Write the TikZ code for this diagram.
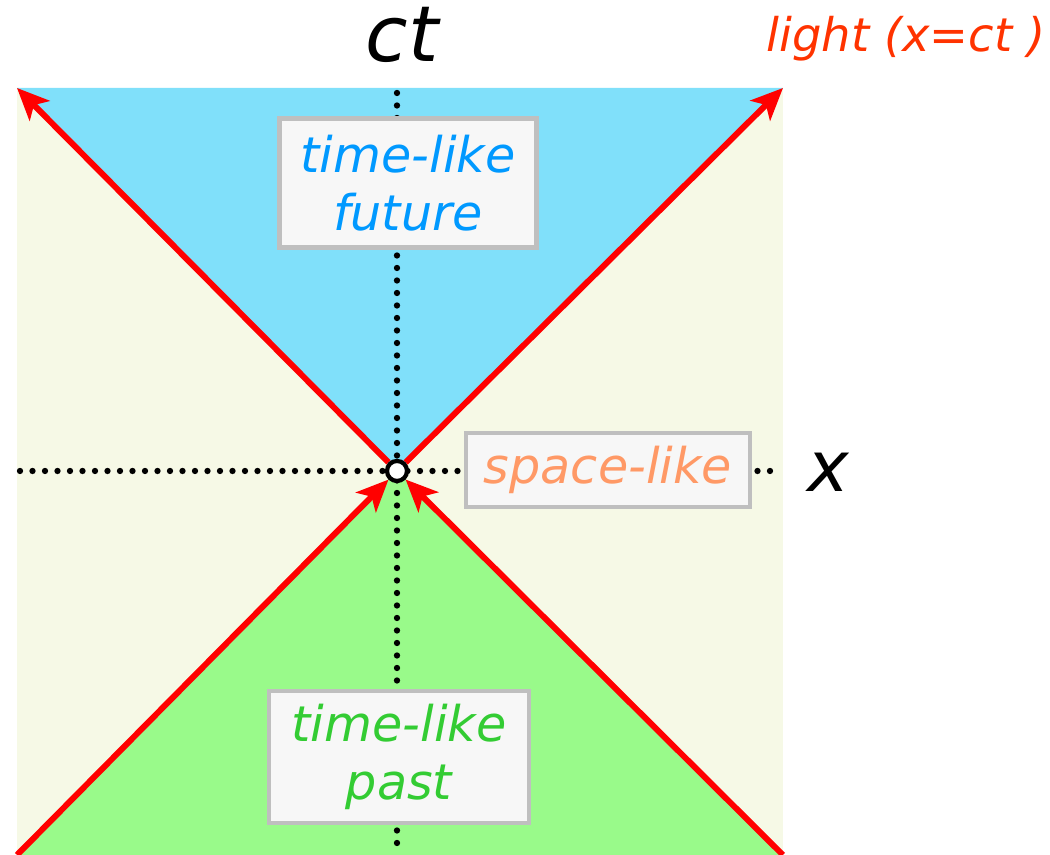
\documentclass[tikz,border=0pt]{standalone}
\usepackage{fontspec}
\setmainfont{DejaVu Sans}
\usetikzlibrary{arrows.meta, positioning}
\definecolor{spacefill}{RGB}{246,249,230}
\definecolor{futurefill}{RGB}{128,224,250}
\definecolor{pastfill}{RGB}{153,250,138}
\definecolor{boxfill}{RGB}{247,247,247}
\definecolor{futuretext}{RGB}{0,153,255}
\definecolor{pasttext}{RGB}{51,204,51}
\definecolor{spacetext}{RGB}{255,153,102}
\definecolor{lighttext}{RGB}{255,51,0}
\begin{document}
\begin{tikzpicture}[
        labelbox/.style={rectangle, draw=black!25, line width=1.4pt, fill=boxfill, align=center, inner sep=0pt, font=\fontsize{14}{16.5}\selectfont\itshape},
        ray/.style={draw=red, line width=1.7pt, -{Stealth[length=0.32cm, width=0.28cm, inset=0.08cm]}},
        axis/.style={line width=1.8pt, dash pattern=on 0pt off 0.125cm, line cap=round},
        event/.style={circle, draw, fill=white, line width=1.2pt, minimum size=0.2cm, inner sep=0pt}
    ]
        \useasboundingbox (0,0) rectangle (10.5,8.55);

        \coordinate (BL) at (0.17,0);
        \coordinate (BR) at (7.83,0);
        \coordinate (TL) at (0.17,7.67);
        \coordinate (TR) at (7.83,7.67);
        \coordinate (o) at (3.97,3.84);

        % regions
        \fill [spacefill] (BL) rectangle (TR);
        \fill [futurefill] (o) -- (TL) -- (TR) -- cycle;
        \fill [pastfill] (o) -- (BL) -- (BR) -- cycle;

        % axes
        \draw [axis] (3.97,7.62) -- (3.97,0);
        \draw [axis] (0.2,3.84) -- (7.76,3.84);

        \node (ct) [anchor=base, font=\fontsize{22}{22}\selectfont\itshape] at (4.02,7.93) {ct};
        \node (xlab) [anchor=base, font=\fontsize{20}{20}\selectfont\itshape] at (8.28,3.63) {x};
        \node (light) [anchor=base, text=lighttext, font=\fontsize{13.2}{13.2}\selectfont\itshape] at (9.06,8.03) {light (x=ct )};

        \node (future) [labelbox, text=futuretext, minimum width=2.57cm, minimum height=1.29cm] at (4.08,6.72) {time-like\\future};
        \node (space) [labelbox, text=spacetext, minimum width=2.84cm, minimum height=0.74cm] at (6.08,3.85) {space-like};
        \node (past) [labelbox, text=pasttext, minimum width=2.6cm, minimum height=1.32cm] at (3.99,0.98) {time-like\\past};

        \path (o) node (O) [event, draw=none, fill=none] {};
        \draw [ray] (O) -- (TL);
        \draw [ray] (O) -- (TR);
        \draw [ray] (BL) -- (O);
        \draw [ray] (BR) -- (O);
        \node [event] at (O) {};
    \end{tikzpicture}
\end{document}
